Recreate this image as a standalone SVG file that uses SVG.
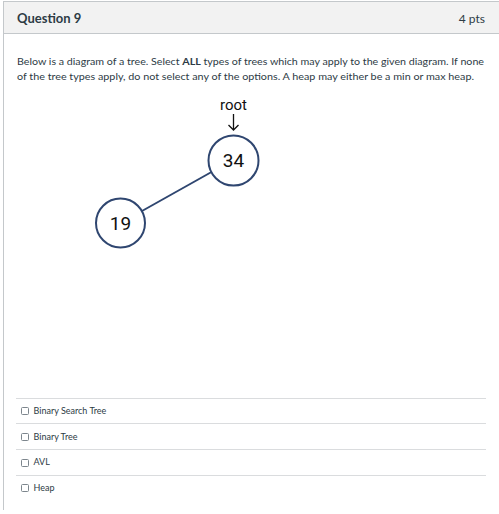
<svg xmlns="http://www.w3.org/2000/svg" width="499" height="514" viewBox="0 0 499 514">
<style>
.ui{font-family:Lato,"Open Sans","Liberation Sans",sans-serif;fill:#2d3b45}
.node circle{fill:#fff;stroke:#2f4670;stroke-width:2}
.node text{font-family:Roboto,"Liberation Sans",sans-serif;font-size:19px;fill:#111;text-anchor:middle}
.sep{stroke:#dadcde;stroke-width:1}
.cb{fill:#fff;stroke:#7d868d;stroke-width:1}
.opt{font-size:9px}
</style>
<rect x="0" y="0" width="499" height="514" fill="#fff"/>
<rect x="3.5" y="1.5" width="500" height="32" fill="#f2f2f2" stroke="#c4c8cb" stroke-width="1"/>
<line x1="3.5" y1="33" x2="3.5" y2="510" stroke="#c4c8cb" stroke-width="1"/>
<text class="ui" x="17" y="23" font-size="13" font-weight="bold">Question 9</text>
<text class="ui" x="485" y="23" font-size="12" text-anchor="end">4 pts</text>
<text class="ui" x="17" y="64.5" font-size="10" textLength="467" lengthAdjust="spacingAndGlyphs">Below is a diagram of a tree. Select <tspan font-weight="bold">ALL</tspan> types of trees which may apply to the given diagram. If none</text>
<text class="ui" x="17" y="79.5" font-size="10" textLength="457" lengthAdjust="spacingAndGlyphs">of the tree types apply, do not select any of the options. A heap may either be a min or max heap.</text>
<g id="root-label">
<text x="233.5" y="109.5" font-family="Roboto,'Liberation Sans',sans-serif" font-size="15" fill="#111" text-anchor="middle">root</text>
<path d="M233.5 114 V130 M228.5 125 L233.5 130 L238.5 125" fill="none" stroke="#111" stroke-width="1.3"/>
</g>
<g id="edges">
<line x1="211.5" y1="172" x2="142" y2="211" stroke="#2f4670" stroke-width="2"/>
</g>
<g id="node-34" class="node">
<circle cx="233.5" cy="160.5" r="25"/>
<text x="233.5" y="167">34</text>
</g>
<g id="node-19" class="node">
<circle cx="120.5" cy="223" r="24.5"/>
<text x="120.5" y="229.5">19</text>
</g>
<g id="options">
<line class="sep" x1="16" y1="398.5" x2="486" y2="398.5"/>
<line class="sep" x1="16" y1="423.5" x2="486" y2="423.5"/>
<line class="sep" x1="16" y1="449.5" x2="486" y2="449.5"/>
<line class="sep" x1="16" y1="475.5" x2="486" y2="475.5"/>
<rect class="cb" x="21.5" y="407.5" width="7" height="7" rx="1"/>
<rect class="cb" x="21.5" y="433.5" width="7" height="7" rx="1"/>
<rect class="cb" x="21.5" y="459.5" width="7" height="7" rx="1"/>
<rect class="cb" x="21.5" y="484.5" width="7" height="7" rx="1"/>
<text class="ui opt" x="33.5" y="413.5">Binary Search Tree</text>
<text class="ui opt" x="33.5" y="439.5">Binary Tree</text>
<text class="ui opt" x="33.5" y="465">AVL</text>
<text class="ui opt" x="33.5" y="490.5">Heap</text>
</g>
</svg>
